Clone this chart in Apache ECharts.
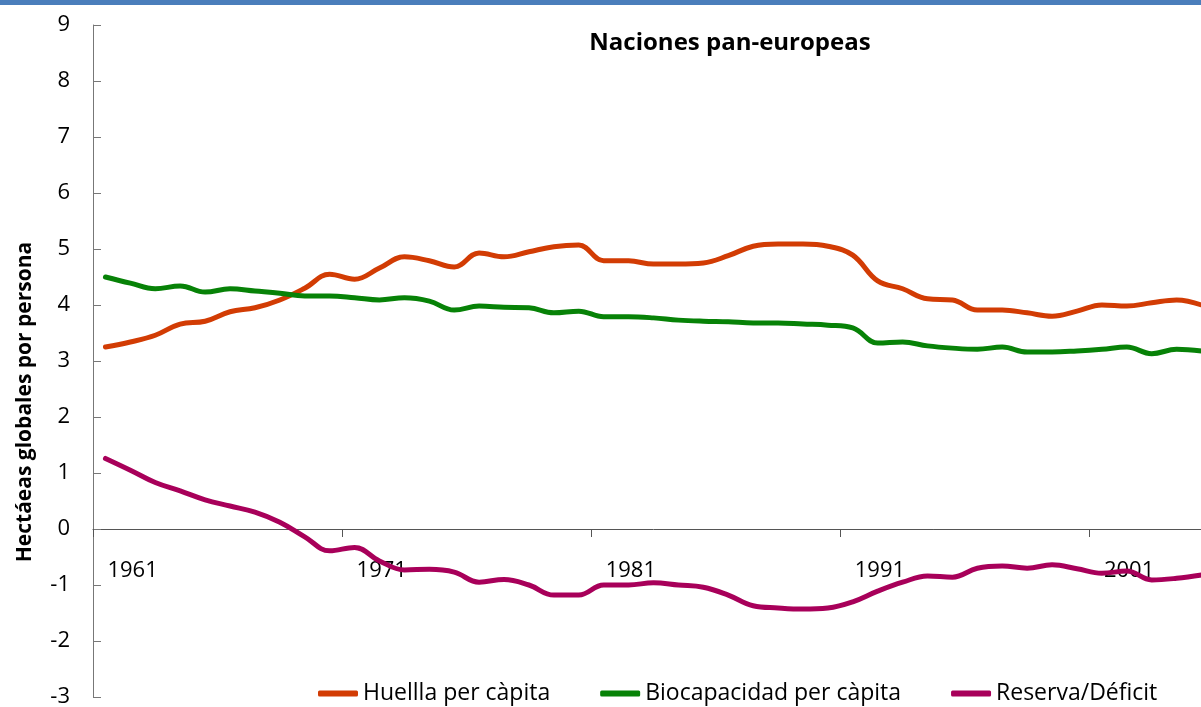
<!DOCTYPE html>
<html>
<head>
<meta charset="utf-8">
<script src="https://cdn.jsdelivr.net/npm/echarts@6/dist/echarts.min.js"></script>
<style>
  html, body { margin: 0; padding: 0; background: #fff; overflow: hidden; }
  #chart { width: 1214px; height: 707px; }
</style>
</head>
<body>
<div id="chart"></div>
<script>
// years on the category axis
const years = [];
for (let y = 1961; y <= 2005; y++) years.push(String(y));

const yTicks = [-3, -2, -1, 0, 1, 2, 3, 4, 5, 6, 7, 8, 9];

const huella = [
  3.25, 3.34, 3.46, 3.66, 3.71, 3.88, 3.95, 4.09, 4.30, 4.55,
  4.46, 4.66, 4.86, 4.79, 4.68, 4.93, 4.86, 4.95, 5.04, 5.07,
  4.79, 4.79, 4.73, 4.73, 4.75, 4.88, 5.05, 5.09, 5.09, 5.05,
  4.89, 4.43, 4.29, 4.11, 4.09, 3.91, 3.91, 3.86, 3.80, 3.89,
  4.00, 3.98, 4.04, 4.09, 4.00
];

const biocapacidad = [
  4.50, 4.39, 4.29, 4.34, 4.23, 4.29, 4.25, 4.21, 4.16, 4.16,
  4.13, 4.09, 4.13, 4.07, 3.91, 3.98, 3.96, 3.95, 3.86, 3.89,
  3.79, 3.79, 3.77, 3.73, 3.71, 3.70, 3.68, 3.68, 3.66, 3.64,
  3.59, 3.32, 3.34, 3.27, 3.23, 3.21, 3.25, 3.16, 3.16, 3.18,
  3.21, 3.25, 3.13, 3.21, 3.18
];

const reserva = [
  1.26, 1.05, 0.83, 0.68, 0.52, 0.41, 0.30, 0.12, -0.14, -0.39,
  -0.33, -0.57, -0.73, -0.72, -0.77, -0.95, -0.90, -1.00, -1.18, -1.18,
  -1.00, -1.00, -0.96, -1.00, -1.04, -1.18, -1.37, -1.41, -1.43, -1.41,
  -1.30, -1.11, -0.95, -0.84, -0.86, -0.70, -0.66, -0.70, -0.64, -0.71,
  -0.79, -0.75, -0.91, -0.88, -0.82
];

const FONT = '"Open Sans", sans-serif';

// grid geometry: the x axis sits on the 0 line, 168px above the bottom edge
const GRID_TOP = 25, GRID_BOTTOM = 10;
const ZERO_OFFSET = -168;

const chart = echarts.init(document.getElementById('chart'));

function line(name, data, color) {
  return {
    name: name,
    type: 'line',
    data: data,
    smooth: 0.4,
    showSymbol: false,
    symbol: 'none',
    lineStyle: { color: color, width: 5, cap: 'round' },
    itemStyle: { color: color },
    animation: false
  };
}

chart.setOption({
  backgroundColor: '#fff',
  title: {
    text: 'Naciones pan-europeas',
    left: 725,
    textAlign: 'center',
    top: 26,
    textStyle: { fontFamily: FONT, fontWeight: 'bold', fontSize: 24, color: '#000' }
  },
  legend: {
    left: 313,
    top: 677,
    itemWidth: 40,
    itemHeight: 6,
    itemGap: 50,
    icon: 'roundRect',
    textStyle: { fontFamily: FONT, fontSize: 23, color: '#000' },
    data: ['Huellla per càpita', 'Biocapacidad per càpita', 'Reserva/Déficit']
  },
  grid: { left: 93, right: 0, top: GRID_TOP, bottom: GRID_BOTTOM, outerBoundsMode: 'none' },
  xAxis: {
    type: 'category',
    data: years,
    position: 'bottom',
    offset: ZERO_OFFSET,
    boundaryGap: true,
    axisLine: { onZero: false, lineStyle: { color: '#555', width: 1 } },
    axisTick: { show: true, interval: 9, length: 8, inside: false, lineStyle: { color: '#555' } },
    axisLabel: {
      interval: 9,
      align: 'left',
      margin: 31,
      padding: [0, 0, 0, 2],
      fontFamily: FONT,
      fontSize: 22,
      color: '#000'
    },
    splitLine: { show: false }
  },
  yAxis: {
    type: 'value',
    min: yTicks[0],
    max: yTicks[yTicks.length - 1],
    interval: 1,
    axisLine: { show: true, lineStyle: { color: '#777', width: 1 } },
    axisTick: { show: true, inside: true, length: 8, lineStyle: { color: '#777' } },
    axisLabel: { margin: 23, fontFamily: FONT, fontSize: 22, color: '#000' },
    splitLine: { show: false }
  },
  graphic: [
    {
      type: 'rect',
      shape: { x: 0, y: 0, width: 1214, height: 5 },
      style: { fill: '#4a7ebb' }
    },
    {
      type: 'text',
      x: 25,
      y: 402,
      rotation: Math.PI / 2,
      style: {
        text: 'Hectáeas globales por persona',
        fontFamily: FONT,
        fontWeight: 'bold',
        fontSize: 21,
        fill: '#000',
        align: 'center',
        verticalAlign: 'middle'
      }
    }
  ],
  series: [
    line('Huellla per càpita', huella, '#d23c04'),
    line('Biocapacidad per càpita', biocapacidad, '#078207'),
    line('Reserva/Déficit', reserva, '#a8005a')
  ]
});
</script>
</body>
</html>
